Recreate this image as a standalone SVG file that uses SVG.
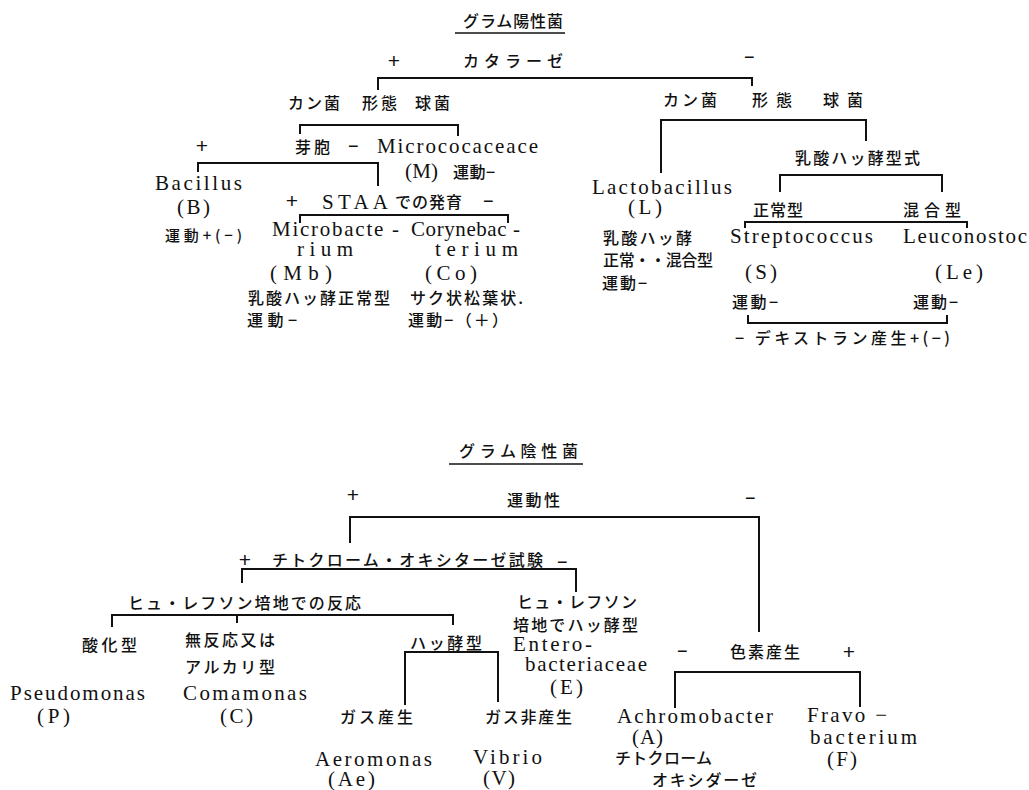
<svg xmlns="http://www.w3.org/2000/svg" width="1029" height="790" viewBox="0 0 1029 790">
<style>
.j{font-family:"Noto Sans CJK JP","Noto Sans CJK SC",sans-serif;font-size:16px;font-weight:500;fill:#111}
.e{font-family:"Liberation Serif",serif;font-size:21px;fill:#111}
.s{font-family:"Liberation Sans",sans-serif;font-size:18px;fill:#111}
.p{font-family:"Liberation Sans",sans-serif;font-size:21px;fill:#111;text-anchor:middle}
.l{fill:none;stroke:#111;stroke-width:2}
.u{fill:none;stroke:#111;stroke-width:1.5}
</style>
<rect width="1029" height="790" fill="#fff"/>
<g id="connectors">
<path class="u" d="M455,33H565"/>
<path class="l" d="M378,90V78H752V86"/>
<path class="l" d="M300,134V125H458V136"/>
<path class="l" d="M198,172V163H378V186"/>
<path class="l" d="M300,223V215H508V223"/>
<path class="l" d="M661,173V120H866V141"/>
<path class="l" d="M780,192V175H942V192"/>
<path class="l" d="M745,228V222H967V228"/>
<path class="l" d="M748,315V323H947V315"/>
<path class="u" d="M449,464H583"/>
<path class="l" d="M350,543V517H759V632"/>
<path class="l" d="M242,583V569H576V592"/>
<path class="l" d="M112,627V615H453V625M237,615V623"/>
<path class="l" d="M405,705V652H498V702"/>
<path class="l" d="M675,708V672H860V707"/>
</g>
<g id="gram-positive">
<text class="j" x="463" y="27" textLength="100">グラム陽性菌</text>
</g>
<g id="catalase">
<text class="p" x="394" y="68">+</text>
<text class="j" x="463" y="67" textLength="100">カタラーゼ</text>
<text class="s" x="744" y="63" textLength="12">−</text>
</g>
<g id="morph-left">
<text class="j" x="288" y="109" textLength="52">カン菌</text>
<text class="j" x="362" y="109" textLength="35">形態</text>
<text class="j" x="415" y="109" textLength="35">球菌</text>
</g>
<g id="spore">
<text class="p" x="202" y="153">+</text>
<text class="j" x="295" y="153" textLength="35">芽胞</text>
<text class="s" x="348" y="152" textLength="15">−</text>
</g>
<g id="micrococcaceae">
<text class="e" x="377" y="153" textLength="161">Micrococaceace</text>
<text class="e" x="405" y="178" textLength="33">(M)</text>
<text class="j" x="453" y="178" textLength="42">運動−</text>
</g>
<g id="bacillus">
<text class="e" x="155" y="190" textLength="87">Bacillus</text>
<text class="e" x="177" y="214" textLength="33">(B)</text>
<text class="j" x="165" y="241" textLength="77" style="font-size:15px">運動+(−)</text>
</g>
<g id="staa">
<text class="p" x="292" y="208">+</text>
<text class="e" x="322" y="209" textLength="66">STAA</text>
<text class="j" x="395" y="208" textLength="67">での発育</text>
<text class="s" x="483" y="207" textLength="15">−</text>
</g>
<g id="microbacterium">
<text class="e" x="272" y="236" textLength="127">Microbacte -</text>
<text class="e" x="297" y="256" textLength="56">rium</text>
<text class="e" x="270" y="280" textLength="62">(Mb)</text>
<text class="j" x="248" y="304" textLength="142">乳酸ハッ酵正常型</text>
<text class="j" x="247" y="326" textLength="50">運動−</text>
</g>
<g id="corynebacterium">
<text class="e" x="411" y="236" textLength="109">Corynebac -</text>
<text class="e" x="435" y="256" textLength="83">terium</text>
<text class="e" x="425" y="280" textLength="52">(Co)</text>
<text class="j" x="410" y="304" textLength="113">サク状松葉状.</text>
<text class="j" x="408" y="326" textLength="100">運動−（＋）</text>
</g>
<g id="morph-right">
<text class="j" x="663" y="106" textLength="54">カン菌</text>
<text class="j" x="752" y="106" textLength="40">形態</text>
<text class="j" x="823" y="106" textLength="40">球菌</text>
</g>
<g id="lactic-type">
<text class="j" x="795" y="164" textLength="125">乳酸ハッ酵型式</text>
<text class="j" x="753" y="216" textLength="50">正常型</text>
<text class="j" x="903" y="216" textLength="58">混合型</text>
</g>
<g id="lactobacillus">
<text class="e" x="592" y="194" textLength="140">Lactobacillus</text>
<text class="e" x="628" y="214" textLength="34">(L)</text>
<text class="j" x="603" y="244" textLength="89">乳酸ハッ酵</text>
<text class="j" x="603" y="266" textLength="110">正常・・混合型</text>
<text class="j" x="602" y="289" textLength="45">運動−</text>
</g>
<g id="streptococcus">
<text class="e" x="730" y="243" textLength="143">Streptococcus</text>
<text class="e" x="745" y="279" textLength="32">(S)</text>
<text class="j" x="732" y="308" textLength="46">運動−</text>
</g>
<g id="leuconostoc">
<text class="e" x="903" y="243" textLength="124">Leuconostoc</text>
<text class="e" x="935" y="279" textLength="48">(Le)</text>
<text class="j" x="913" y="308" textLength="45">運動−</text>
</g>
<g id="dextran">
<text class="j" x="735" y="344" textLength="215">− デキストラン産生+(−)</text>
</g>
<g id="gram-negative">
<text class="j" x="459" y="457" textLength="119">グラム陰性菌</text>
</g>
<g id="motility">
<text class="p" x="353" y="502">+</text>
<text class="j" x="507" y="506" textLength="53">運動性</text>
<text class="s" x="745" y="504" textLength="12">−</text>
</g>
<g id="oxidase">
<text class="p" x="245" y="567">+</text>
<text class="j" x="272" y="566" textLength="271">チトクローム・オキシターゼ試験</text>
<text class="s" x="557" y="568" textLength="12">−</text>
</g>
<g id="hugh-leifson">
<text class="j" x="128" y="609" textLength="233">ヒュ・レフソン培地での反応</text>
</g>
<g id="enterobacteriaceae">
<text class="j" x="517" y="608" textLength="120">ヒュ・レフソン</text>
<text class="j" x="513" y="631" textLength="125">培地でハッ酵型</text>
<text class="e" x="513" y="651" textLength="79">Entero-</text>
<text class="e" x="525" y="671" textLength="122">bacteriaceae</text>
<text class="e" x="550" y="694" textLength="33">(E)</text>
</g>
<g id="pseudomonas">
<text class="j" x="82" y="651" textLength="55">酸化型</text>
<text class="e" x="10" y="700" textLength="135">Pseudomonas</text>
<text class="e" x="37" y="723" textLength="33">(P)</text>
</g>
<g id="comamonas">
<text class="j" x="185" y="646" textLength="90">無反応又は</text>
<text class="j" x="185" y="673" textLength="90">アルカリ型</text>
<text class="e" x="183" y="700" textLength="124">Comamonas</text>
<text class="e" x="220" y="723" textLength="33">(C)</text>
</g>
<g id="fermentative">
<text class="j" x="410" y="649" textLength="72">ハッ酵型</text>
</g>
<g id="aeromonas">
<text class="j" x="340" y="723" textLength="73">ガス産生</text>
<text class="e" x="315" y="766" textLength="117">Aeromonas</text>
<text class="e" x="328" y="786" textLength="47">(Ae)</text>
</g>
<g id="vibrio">
<text class="j" x="485" y="723" textLength="87">ガス非産生</text>
<text class="e" x="473" y="764" textLength="69">Vibrio</text>
<text class="e" x="483" y="785" textLength="32">(V)</text>
</g>
<g id="pigment">
<text class="s" x="677" y="657" textLength="13">−</text>
<text class="j" x="730" y="658" textLength="70">色素産生</text>
<text class="p" x="849" y="659">+</text>
</g>
<g id="achromobacter">
<text class="e" x="617" y="723" textLength="156">Achromobacter</text>
<text class="e" x="632" y="744" textLength="31">(A)</text>
<text class="j" x="615" y="764" textLength="97">チトクローム</text>
<text class="j" x="652" y="786" textLength="105">オキシダーゼ</text>
</g>
<g id="flavobacterium">
<text class="e" x="807" y="722" textLength="80">Fravo −</text>
<text class="e" x="810" y="744" textLength="107">bacterium</text>
<text class="e" x="827" y="766" textLength="30">(F)</text>
</g>
</svg>
